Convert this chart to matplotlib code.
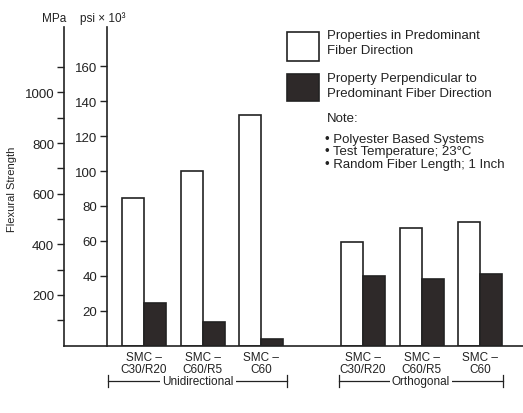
import numpy as np
import matplotlib
matplotlib.use('Agg')
import matplotlib.pyplot as plt
from matplotlib.patches import Rectangle

plt.rcParams['font.family'] = ['Liberation Sans', 'DejaVu Sans']

# chart data (flexural strength, psi x 10^3)
materials = ['SMC –\nC30/R20', 'SMC –\nC60/R5', 'SMC –\nC60']
groups = ['Unidirectional', 'Orthogonal']
along_fiber = [84.5, 100, 132, 59.5, 67.5, 71]
perp_fiber = [24.5, 13.5, 4, 40, 38, 41]
psi_ticks = [20, 40, 60, 80, 100, 120, 140, 160]
mpa_ticks = [200, 400, 600, 800, 1000]
mpa_minor = [100, 300, 500, 700, 900, 1100]
legend_labels = ['Properties in Predominant\nFiber Direction',
                 'Property Perpendicular to\nPredominant Fiber Direction']
notes = ['• Polyester Based Systems',
         '• Test Temperature; 23°C',
         '• Random Fiber Length; 1 Inch']

W, H = 523, 414
ink = '#222222'
dark = '#2e2929'

fig = plt.figure(figsize=(W / 100, H / 100), dpi=100)
fig.patch.set_facecolor('white')
ax = fig.add_axes([64 / W, 1 - 346.6 / H, (523 - 64) / W, (346.6 - 28) / H])

n = len(materials)
pos = np.array([i + (i // n) * 0.73 for i in range(len(along_fiber))])
w = 0.375
ax.bar(pos - w / 2, along_fiber, w, facecolor='white', edgecolor=ink, linewidth=1.2)
ax.bar(pos + w / 2, perp_fiber, w, facecolor=dark, edgecolor=ink, linewidth=1.2)

ax.set_xlim(-1.363, 6.457)
ax.set_ylim(0, 182.5)

for s in ['top', 'right']:
    ax.spines[s].set_visible(False)
ax.spines['left'].set_position(('axes', 43 / 459))
ax.spines['left'].set_linewidth(1.2)
ax.spines['bottom'].set_linewidth(1.2)
ax.spines['left'].set_color(ink)
ax.spines['bottom'].set_color(ink)

ax.set_yticks(psi_ticks)
ax.tick_params(axis='y', direction='out', length=5, width=1, labelsize=9.5, pad=2, colors=ink)

ax.set_xticks(pos, labels=materials * len(groups))
ax.tick_params(axis='x', length=0, pad=4, labelsize=8.5, colors=ink)
for lbl in ax.get_xticklabels():
    lbl.set_linespacing(1.0)

# MPa axis on the far left
sec = ax.secondary_yaxis(0, functions=(lambda p: p * 6.895, lambda m: m / 6.895))
sec.set_yticks(mpa_ticks)
sec.set_yticks(mpa_minor, minor=True)
sec.tick_params(which='both', direction='out', length=5, width=1, labelsize=9.5, pad=2, colors=ink)
sec.spines['left'].set_linewidth(1.2)
sec.spines['left'].set_color(ink)

# group brackets
trans = ax.get_xaxis_transform()
bracket_span = [(-0.61, 2.44), (3.32, 6.12)]
yb = -0.111
for name, (x0, x1) in zip(groups, bracket_span):
    ax.plot([x0, x1], [yb, yb], transform=trans, clip_on=False, color=ink, lw=0.9)
    for xe in (x0, x1):
        ax.plot([xe, xe], [yb - 0.02, yb + 0.02], transform=trans, clip_on=False, color=ink, lw=0.9)
    ax.text((x0 + x1) / 2, yb, name, transform=trans, ha='center', va='center',
            fontsize=8.5, color=ink,
            bbox=dict(facecolor='white', edgecolor='none', pad=1.5))

# axis titles
fig.text(12 / W, 1 - 189 / H, 'Flexural Strength', rotation=90, ha='center', va='center',
         fontsize=8, color=ink)
fig.text(42 / W, 1 - 19 / H, 'MPa', ha='left', va='center', fontsize=8.5, color=ink)
fig.text(80 / W, 1 - 19 / H, 'psi × 10³', ha='left', va='center', fontsize=8.5, color=ink)

# legend and notes
fig.add_artist(Rectangle((287 / W, 1 - 62 / H), 32 / W, 29 / H, transform=fig.transFigure,
                         facecolor='white', edgecolor=ink, linewidth=1.2))
fig.add_artist(Rectangle((287 / W, 1 - 102 / H), 32 / W, 27 / H, transform=fig.transFigure,
                         facecolor=dark, edgecolor=ink, linewidth=1.2))
fig.text(327 / W, 1 - 30 / H, legend_labels[0], ha='left', va='top', fontsize=9.5,
         linespacing=1.3, color=ink)
fig.text(327 / W, 1 - 73 / H, legend_labels[1], ha='left', va='top', fontsize=9.5,
         linespacing=1.3, color=ink)
fig.text(327 / W, 1 - 113 / H, 'Note:', ha='left', va='top', fontsize=9.5, color=ink)
fig.text(325 / W, 1 - 134 / H, '\n'.join(notes), ha='left', va='top', fontsize=9.5,
         linespacing=1.05, color=ink)

fig.savefig('out.png', dpi=100)
